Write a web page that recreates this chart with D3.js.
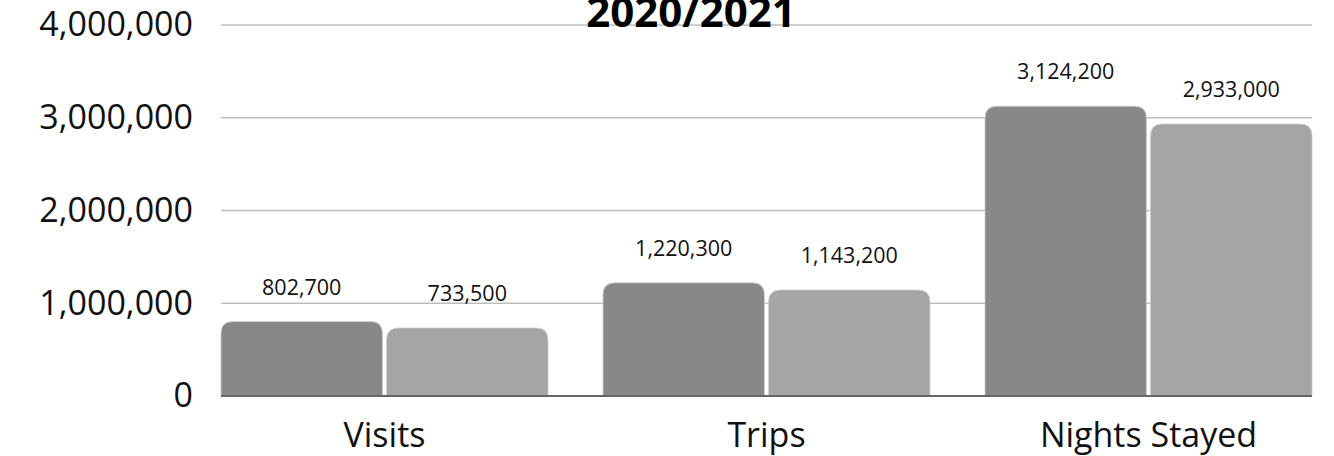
<!DOCTYPE html>
<html>
<head>
<meta charset="utf-8">
<script src="https://cdn.jsdelivr.net/npm/d3@7"></script>
<style>
  body { margin: 0; background: #fff; }
  svg { display: block; font-family: "Open Sans", sans-serif; }
</style>
</head>
<body>
<svg id="viz"></svg>
<script>
var width = 1334;
var height = 456;

var title = "2020/2021";
var categories = ["Visits", "Trips", "Nights Stayed"];
var seriesNames = ["2020", "2021"];
var series2020 = [802700, 1220300, 3124200];
var series2021 = [733500, 1143200, 2933000];
var yTicks = [0, 1000000, 2000000, 3000000, 4000000];
var colors = ["#888888", "#a5a5a5"];

var margin = {top: 25, left: 221, right: 22, bottom: 60};

var svg = d3.select("#viz").attr("width", width).attr("height", height);

var x0 = d3.scaleBand()
    .domain(categories)
    .range([margin.left, width - margin.right])
    .paddingInner(0.144)
    .paddingOuter(0);

var x1 = d3.scaleBand()
    .domain(seriesNames)
    .range([0, x0.bandwidth()])
    .paddingInner(0.025);

var y = d3.scaleLinear()
    .domain([0, 4000000])
    .range([height - margin.bottom, margin.top]);

var fmt = d3.format(",");

// grid lines
svg.append("g").attr("class", "grid")
    .selectAll("line")
    .data(yTicks.slice(1))
    .enter()
    .append("line")
    .attr("x1", margin.left)
    .attr("x2", width - margin.right)
    .attr("y1", function(d) { return y(d); })
    .attr("y2", function(d) { return y(d); })
    .attr("stroke", "#bdbdbd")
    .attr("stroke-width", 1.5);

// y axis labels
var yAxis = svg.append("g")
    .attr("transform", "translate(" + (margin.left - 28) + ",0)")
    .call(d3.axisLeft(y).tickValues(yTicks).tickFormat(fmt).tickSize(0).tickPadding(0));
yAxis.select(".domain").remove();
yAxis.selectAll("text")
    .attr("font-family", "'Open Sans', sans-serif")
    .attr("font-size", 34)
    .attr("fill", "#111");

// bars
var data = categories.map(function(c, i) {
  return {cat: c, values: [
    {name: seriesNames[0], value: series2020[i]},
    {name: seriesNames[1], value: series2021[i]}
  ]};
});

function topRounded(x, yTop, w, h, r) {
  r = Math.min(r, w / 2, h);
  return "M" + x + "," + (yTop + h) +
         "V" + (yTop + r) +
         "Q" + x + "," + yTop + " " + (x + r) + "," + yTop +
         "H" + (x + w - r) +
         "Q" + (x + w) + "," + yTop + " " + (x + w) + "," + (yTop + r) +
         "V" + (yTop + h) + "Z";
}

var groups = svg.append("g").selectAll("g")
    .data(data)
    .enter()
    .append("g")
    .attr("transform", function(d) { return "translate(" + x0(d.cat) + ",0)"; });

groups.selectAll("path")
    .data(function(d) { return d.values; })
    .enter()
    .append("path")
    .attr("d", function(d) {
      return topRounded(x1(d.name), y(d.value), x1.bandwidth(), y(0) - y(d.value), 12);
    })
    .attr("fill", function(d, i) { return colors[i]; })
    .attr("stroke", "#cfcfcf")
    .attr("stroke-width", 0.8);

groups.selectAll("text")
    .data(function(d) { return d.values; })
    .enter()
    .append("text")
    .attr("x", function(d) { return x1(d.name) + x1.bandwidth() / 2; })
    .attr("y", function(d) { return y(d.value) - 27; })
    .attr("text-anchor", "middle")
    .attr("font-size", 21.5)
    .attr("fill", "#111")
    .text(function(d) { return fmt(d.value); });

// baseline
svg.append("line")
    .attr("x1", margin.left)
    .attr("x2", width - margin.right)
    .attr("y1", y(0))
    .attr("y2", y(0))
    .attr("stroke", "#666")
    .attr("stroke-width", 2);

// category labels
svg.append("g").selectAll("text")
    .data(categories)
    .enter()
    .append("text")
    .attr("x", function(d) { return x0(d) + x0.bandwidth() / 2; })
    .attr("y", 447)
    .attr("text-anchor", "middle")
    .attr("font-size", 34)
    .attr("fill", "#111")
    .text(function(d) { return d; });

// title
svg.append("text")
    .attr("x", 691)
    .attr("y", 27)
    .attr("text-anchor", "middle")
    .attr("font-size", 42)
    .attr("font-weight", "bold")
    .attr("fill", "#000")
    .text(title);
</script>
</body>
</html>
